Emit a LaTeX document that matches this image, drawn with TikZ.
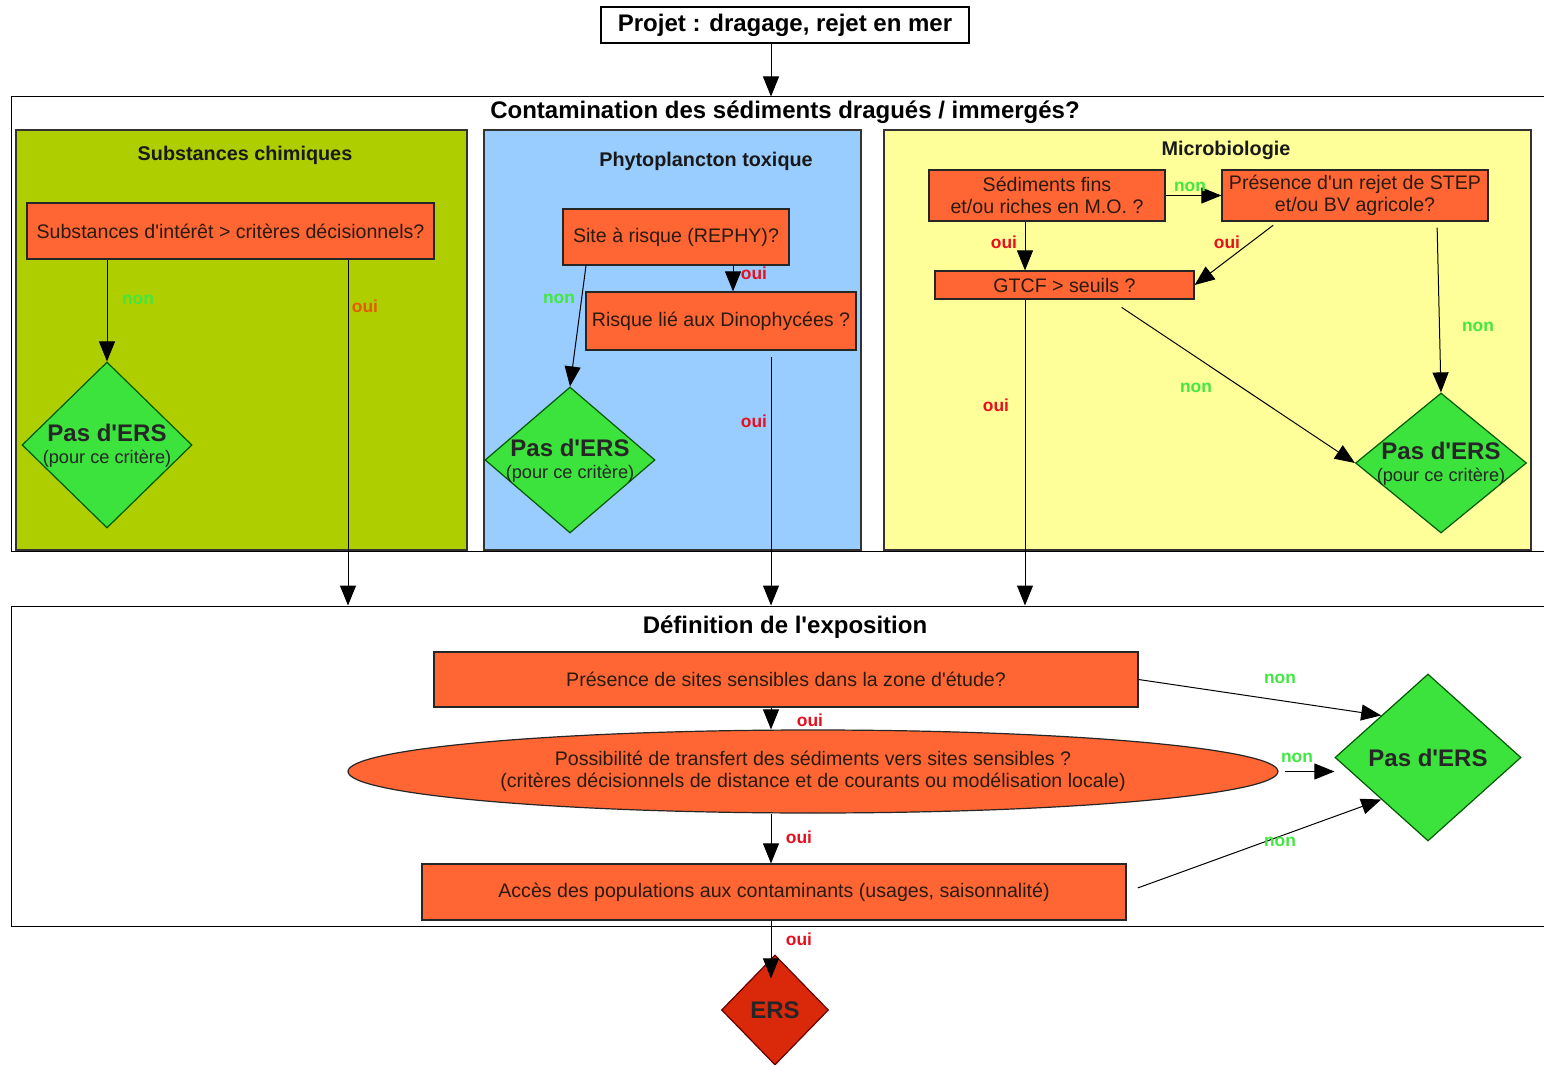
\documentclass[tikz,border=0pt]{standalone}
\usepackage{fontspec}
\setmainfont{Liberation Sans}
\usetikzlibrary{arrows.meta,shapes.geometric}
\definecolor{panelgreen}{HTML}{AECE00}
\definecolor{panelblue}{HTML}{99CCFF}
\definecolor{panelyellow}{HTML}{FFFF99}
\definecolor{boxorange}{HTML}{FF6633}
\definecolor{diagreen}{HTML}{3DE33D}
\definecolor{ersred}{HTML}{D9280A}
\definecolor{nongreen}{HTML}{40E840}
\definecolor{ouired}{HTML}{E8101E}
\definecolor{ouiorange}{HTML}{E55A00}
\definecolor{txtdark}{HTML}{2A1A10}
\newcommand\myapos{\textquotesingle}
\newcommand\mytitlefont{\fontsize{12}{14}\selectfont\bfseries}
\newcommand\mypanelfont{\fontsize{9.9}{12}\selectfont\bfseries}
\newcommand\myboxfont{\fontsize{9.8}{11}\selectfont}
\newcommand\mylabelfont{\fontsize{8.7}{10}\selectfont\bfseries}
\newcommand\mybigfont{\fontsize{12}{13}\selectfont\bfseries}
\newcommand\mysubfont{\fontsize{9.1}{10}\selectfont}
\begin{document}
\begin{tikzpicture}[x=0.5pt,y=-0.5pt,
  frame/.style={draw=black, line width=0.5pt, fill=white, rectangle, inner sep=0pt},
  panel/.style={draw=black!80, line width=0.6pt, rectangle, inner sep=0pt, minimum height=210pt},
  qbox/.style={draw=black!85, line width=0.6pt, fill=boxorange, rectangle, inner sep=0pt, text=txtdark, font=\myboxfont, align=center},
  stopdia/.style={diamond, draw=green!35!black, fill=diagreen, inner sep=0pt, line width=0.6pt},
  diatext/.style={align=center, inner sep=0pt, text=black!85},
  arr/.style={-{Triangle[length=10pt,width=8pt]}, line width=0.5pt, black},
  lblnon/.style={text=nongreen, font=\mylabelfont, inner sep=0pt},
  lbloui/.style={text=ouired, font=\mylabelfont, inner sep=0pt},
  ttl/.style={font=\mytitlefont, text=black, inner sep=0pt},
  ptl/.style={font=\mypanelfont, text=black!90, inner sep=0pt}]
\useasboundingbox[fill=white] (0,0) rectangle (1544,1065);

% x reference coordinates
\coordinate (x107) at (107,0);
\coordinate (x348) at (348,0);
\coordinate (x586) at (586,0);
\coordinate (x733) at (733,0);
\coordinate (x771) at (771,0);
\coordinate (x1025) at (1025,0);
\coordinate (x1110) at (1110,0);
\coordinate (x1278) at (1278,0);
\coordinate (x1437) at (1437,0);

% top
\node[draw=black, line width=0.6pt, fill=white, inner sep=0pt, minimum width=184pt, minimum height=18pt, font=\mytitlefont] (proj) at (785,25) {Projet : dragage, rejet en mer};

% big frames
\node[frame, minimum width=770.5pt, minimum height=227pt] (contam) at (781.5,324) {};
\node[ttl] (contamt) at (785,112) {Contamination des sédiments dragués / immergés?};
\node[frame, minimum width=770.5pt, minimum height=160pt] (expo) at (781.5,766) {};
\node[ttl] (expot) at (785,627) {Définition de l\myapos exposition};

% panels
\node[panel, fill=panelgreen, minimum width=225.5pt] (pchem) at (241.5,340) {};
\node[panel, fill=panelblue, minimum width=188.5pt] (pphyto) at (672.5,340) {};
\node[panel, fill=panelyellow, minimum width=323.5pt] (pmicro) at (1207.5,340) {};
\node[ptl] (tchem) at (245,155) {Substances chimiques};
\node[ptl] (tphyto) at (706,161) {Phytoplancton toxique};
\node[ptl] (tmicro) at (1226,150) {Microbiologie};

% chemistry
\node[qbox, minimum width=203.5pt, minimum height=28pt] (sub) at (230.5,231) {Substances d\myapos intérêt > critères décisionnels?};
\node[stopdia, minimum width=85pt, minimum height=83pt] (d1) at (107,445) {};
\node[diatext] (d1t) at (107,446) {{\mybigfont Pas d\myapos ERS}\\[-1pt]{\mysubfont (pour ce critère)}};

% phyto
\node[qbox, minimum width=113pt, minimum height=28pt] (rephy) at (676,237) {Site à risque (REPHY)?};
\node[qbox, minimum width=135pt, minimum height=29pt] (dino) at (721,321) {Risque lié aux Dinophycées ?};
\node[stopdia, minimum width=85pt, minimum height=73pt] (d2) at (570,460) {};
\node[diatext] (d2t) at (570,461) {{\mybigfont Pas d\myapos ERS}\\[-1pt]{\mysubfont (pour ce critère)}};

% micro
\node[qbox, minimum width=118pt, minimum height=25.5pt] (sed) at (1047,195.5) {Sédiments fins\\et/ou riches en M.O. ?};
\node[qbox, minimum width=133pt, minimum height=25.5pt] (step) at (1355,195.5) {Présence d\myapos un rejet de STEP\\et/ou BV agricole?};
\node[qbox, minimum width=129.5pt, minimum height=14pt] (gtcf) at (1064.5,285) {GTCF > seuils ?};
\node[stopdia, minimum width=85.5pt, minimum height=70pt] (d3) at (1441,463) {};
\node[diatext] (d3t) at (1441,464) {{\mybigfont Pas d\myapos ERS}\\[-1pt]{\mysubfont (pour ce critère)}};

% exposition
\node[qbox, minimum width=352pt, minimum height=27.5pt] (pres) at (786,679.5) {Présence de sites sensibles dans la zone d\myapos étude?};
\node[ellipse, draw=black!85, line width=0.6pt, fill=boxorange, inner sep=0pt, minimum width=465pt, minimum height=41.5pt, text=txtdark, font=\myboxfont, align=center] (ell) at (813,771.5) {Possibilité de transfert des sédiments vers sites sensibles ?\\(critères décisionnels de distance et de courants ou modélisation locale)};
\node[qbox, minimum width=352pt, minimum height=28pt] (acces) at (774,892) {Accès des populations aux contaminants (usages, saisonnalité)};
\node[stopdia, minimum width=93pt, minimum height=83.5pt] (d4) at (1428,757.5) {};
\node[diatext, font=\mybigfont] (d4t) at (1428,757.5) {Pas d\myapos ERS};
\node[diamond, draw=red!40!black, fill=ersred, inner sep=0pt, line width=0.6pt, minimum width=53.5pt, minimum height=55pt, font=\mybigfont, text=black!85] (ers) at (775,1010) {ERS};

% connectors
\draw[arr] (proj.south -| x771) -- (contam.north -| x771);
\draw[arr] (sub.south -| x107) -- (d1.north);
\draw[arr] (sub.south -| x348) -- (expo.north -| x348);
\draw[arr] (rephy.south -| x733) -- (dino.north -| x733);
\draw[arr] (rephy.south -| x586) -- (d2.north);
\draw[arr, shorten <=3pt] (dino.south -| x771) -- (expo.north -| x771);
\draw[arr] (sed.east) -- (step.west);
\draw[arr] (sed.south -| x1025) -- (gtcf.north -| x1025);
\draw[arr, shorten <=3pt] (step.south -| x1278) -- (gtcf.east);
\draw[arr, shorten <=3pt] (step.south -| x1437) -- (d3.north);
\draw[arr, shorten <=7pt] (gtcf.south -| x1110) -- (d3.west);
\draw[arr] (gtcf.south -| x1025) -- (expo.north -| x1025);
\draw[arr] (pres.south -| x771) -- (ell.north -| x771);
\draw[arr] (ell.south -| x771) -- (acces.north -| x771);
\draw[arr] (pres.east) -- (d4.north west);
\draw[arr, shorten <=3pt] (ell.east) -- (d4.west |- ell.east);
\draw[arr, shorten <=6pt] (acces.east) -- (d4.south west);
\draw[arr, shorten >=-12pt] (acces.south -| x771) -- (ers.north -| x771);

% labels
\node[lblnon] (l1) at (138,300) {non};
\node[lbloui, text=ouiorange] (l2) at (365,306) {oui};
\node[lbloui] (l3) at (754,273) {oui};
\node[lblnon] (l4) at (559,299) {non};
\node[lbloui] (l5) at (754,421) {oui};
\node[lblnon] (l6) at (1190,187) {non};
\node[lbloui] (l7) at (1004,242) {oui};
\node[lbloui] (l8) at (1227,242) {oui};
\node[lblnon] (l9) at (1478,327) {non};
\node[lblnon] (l10) at (1196,388) {non};
\node[lbloui] (l11) at (996,405) {oui};
\node[lblnon] (l12) at (1280,679) {non};
\node[lblnon] (l13) at (1297,758) {non};
\node[lblnon] (l14) at (1280,842) {non};
\node[lbloui] (l15) at (810,720) {oui};
\node[lbloui] (l16) at (799,837) {oui};
\node[lbloui] (l17) at (799,939) {oui};
\end{tikzpicture}
\end{document}
